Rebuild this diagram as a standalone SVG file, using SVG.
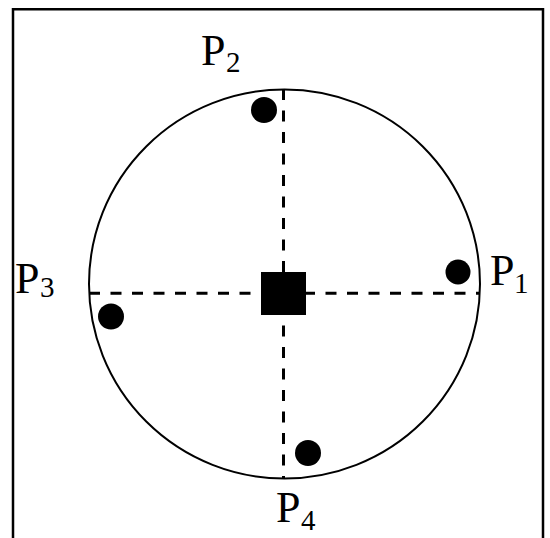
<svg xmlns="http://www.w3.org/2000/svg" width="550" height="538" viewBox="0 0 550 538">
<style>
.frame{fill:none;stroke:#000;stroke-width:2.5}
.ring{fill:none;stroke:#000;stroke-width:2}
.dash{stroke:#000;stroke-width:3;stroke-dasharray:11 10.5;fill:none}
.dot{fill:#000}
.lbl{font-family:"Liberation Serif","Times New Roman",serif;font-size:44px;fill:#000}
.sub{font-size:29px}
</style>
<rect width="550" height="538" fill="#fff"/>
<path class="frame" d="M13,540 V9.3 H543 V540"/>
<g id="connectors">
<line class="dash" x1="89" y1="293.3" x2="480" y2="293.3"/>
<line class="dash" x1="283.5" y1="89" x2="283.5" y2="479"/>
</g>
<g id="circle"><ellipse class="ring" cx="284.5" cy="284" rx="195.5" ry="194.5"/></g>
<g id="center"><rect x="261" y="272" width="45" height="43" fill="#000"/></g>
<g id="dot-P1"><circle class="dot" cx="458" cy="272" r="12.5"/></g>
<g id="dot-P2"><circle class="dot" cx="264" cy="110" r="13"/></g>
<g id="dot-P3"><circle class="dot" cx="111" cy="316.5" r="13"/></g>
<g id="dot-P4"><circle class="dot" cx="308" cy="453" r="13"/></g>
<g id="label-P1"><text class="lbl" x="490" y="285">P<tspan class="sub" x="514" y="293">1</tspan></text></g>
<g id="label-P2"><text class="lbl" x="201" y="65">P<tspan class="sub" x="226" y="72">2</tspan></text></g>
<g id="label-P3"><text class="lbl" x="15" y="293">P<tspan class="sub" x="40" y="297">3</tspan></text></g>
<g id="label-P4"><text class="lbl" x="276" y="522">P<tspan class="sub" x="301" y="530">4</tspan></text></g>
</svg>
